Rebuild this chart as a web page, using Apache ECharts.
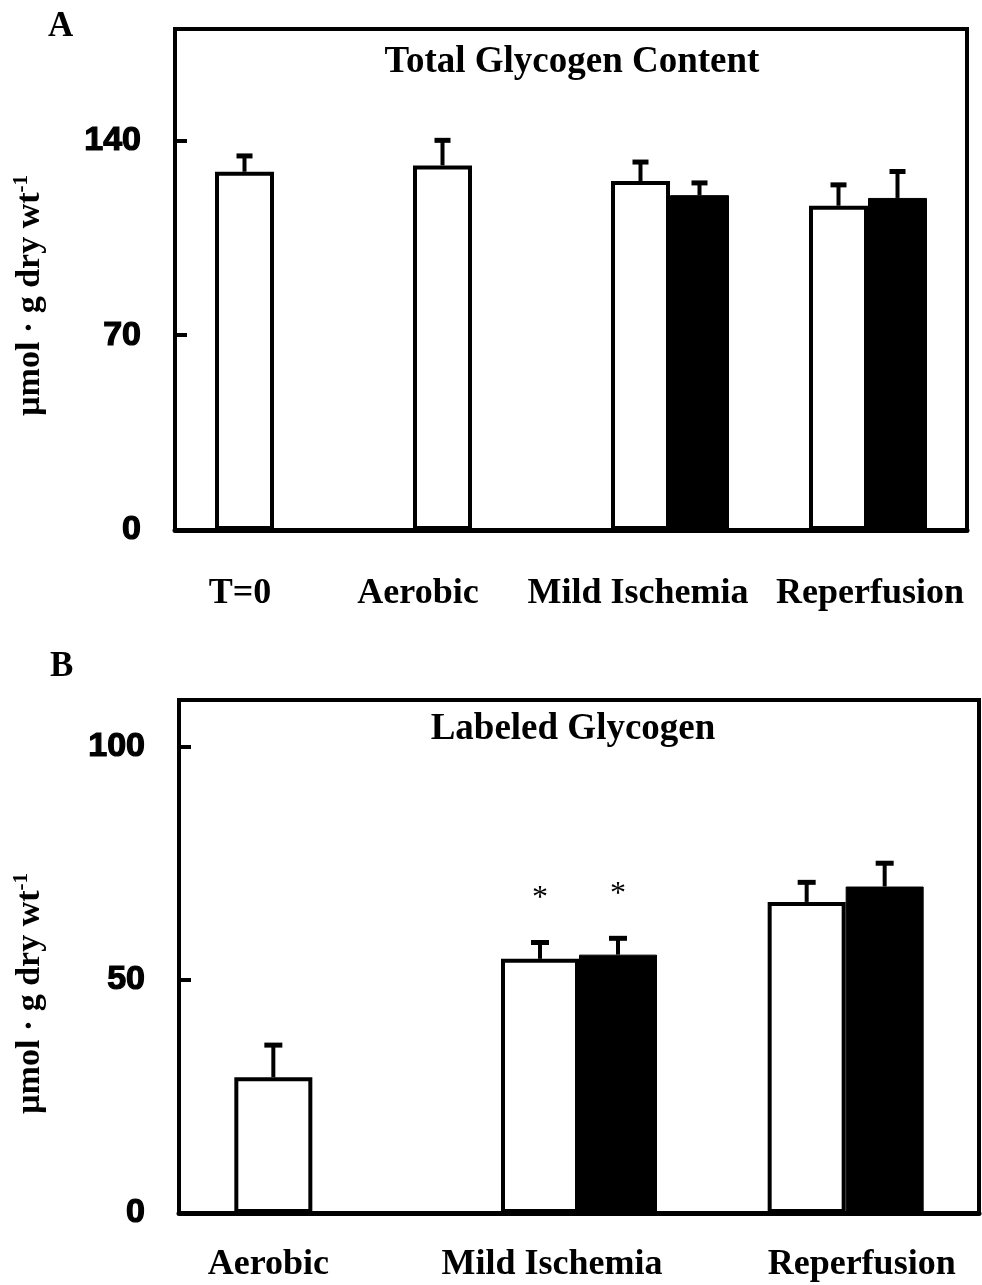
<!DOCTYPE html>
<html>
<head>
<meta charset="utf-8">
<script src="https://cdn.jsdelivr.net/npm/echarts@6/dist/echarts.min.js"></script>
<style>html,body{margin:0;padding:0;background:#fff}#c{width:982px;height:1285px}</style>
</head>
<body>
<div id="c"></div>
<script>
// ---------- data ----------
const categoriesA = ['T=0', 'Aerobic', 'Mild Ischemia', 'Reperfusion'];
const whiteA = [128.7, 131.0, 125.4, 116.5];
const whiteErrA = [5.7, 9.0, 6.8, 7.5];
const blackA = [null, null, 120.3, 119.3];
const blackErrA = [null, null, 4.4, 9.5];
const yTicksA = [0, 70, 140];

const categoriesB = ['Aerobic', 'Mild Ischemia', 'Reperfusion'];
const whiteB = [29.1, 54.5, 66.7];
const whiteErrB = [6.9, 3.5, 4.2];
const blackB = [null, 55.4, 70.0];
const blackErrB = [null, 3.5, 5.0];
const sigWhiteB = [false, true, false];
const sigBlackB = [false, true, false];
const yTicksB = [0, 50, 100];

const titleA = 'Total Glycogen Content';
const titleB = 'Labeled Glycogen';
const yName = 'µmol · g dry wt';
const yNameSup = '-1';

// ---------- styles ----------
const SERIF = '"Liberation Serif", "Times New Roman", serif';
const SANS = '"Liberation Sans", Arial, sans-serif';
const labelShiftA = [-34, -54, -32, 2];
const labelShiftB = [-44, -27, 16];
const bwA = 59, bwB = 78;

function catData(cats, shifts) {
  return cats.map((c, i) => {
    const s = shifts[i];
    return { value: c, textStyle: { padding: s < 0 ? [0, -2 * s, 0, 0] : [0, 0, 0, 2 * s] } };
  });
}

function errData(vals, errs, sig) {
  return vals.map((v, i) => [i, v, errs[i], sig ? (sig[i] ? 1 : 0) : 0]);
}

function errSeries(axisIdx, vals, errs, offset, capW, sig) {
  return {
    type: 'custom',
    xAxisIndex: axisIdx, yAxisIndex: axisIdx,
    z: 1,
    data: errData(vals, errs, sig),
    renderItem: function (params, api) {
      const v = api.value(1);
      if (v == null || isNaN(v)) return null;
      const ci = api.value(0), e = api.value(2);
      const b = api.coord([ci, v]);
      const t = api.coord([ci, v + e]);
      const x = b[0] + offset;
      const children = [
        { type: 'line', shape: { x1: x, y1: b[1], x2: x, y2: t[1] }, style: { stroke: '#000', lineWidth: 4 } },
        { type: 'line', shape: { x1: x - capW / 2, y1: t[1], x2: x + capW / 2, y2: t[1] }, style: { stroke: '#000', lineWidth: 5 } }
      ];
      if (api.value(3) === 1) {
        children.push({ type: 'text', style: { text: '*', x: x, y: t[1] - 44, align: 'center', verticalAlign: 'middle', font: '32px ' + SERIF, fill: '#000' } });
      }
      return { type: 'group', children: children };
    }
  };
}

function yAxisCfg(gridIdx, max, ticks, nameShift, nameGap) {
  return {
    type: 'value', gridIndex: gridIdx, min: 0, max: max,
    axisLine: { show: true, lineStyle: { color: '#000', width: 4 } },
    axisTick: { show: true, inside: true, length: 12, lineStyle: { color: '#000', width: 4 }, customValues: ticks },
    axisLabel: { customValues: ticks, color: '#000', fontFamily: SANS, fontWeight: 'bold', fontSize: 34, margin: 34,
      textBorderColor: '#000', textBorderWidth: 1.2 },
    splitLine: { show: false },
    name: '{a|' + yName + '}{s|' + yNameSup + '}',
    nameLocation: 'middle', nameRotate: 90, nameGap: nameGap,
    nameTextStyle: {
      color: '#000', fontFamily: SERIF, fontWeight: 'bold', fontSize: 34,
      padding: [0, 2 * nameShift, 0, 0],
      rich: {
        a: { fontFamily: SERIF, fontWeight: 'bold', fontSize: 34, lineHeight: 38, color: '#000' },
        s: { fontFamily: SERIF, fontWeight: 'bold', fontSize: 21, lineHeight: 38, verticalAlign: 'top', color: '#000' }
      }
    }
  };
}

function xAxisCfg(gridIdx, cats, shifts, margin) {
  return {
    type: 'category', gridIndex: gridIdx, data: catData(cats, shifts),
    axisLine: { show: true, lineStyle: { color: '#000', width: 5 } },
    axisTick: { show: false },
    axisLabel: { color: '#000', fontFamily: SERIF, fontWeight: 'bold', fontSize: 36, margin: margin, interval: 0 }
  };
}

const option = {
  animation: false,
  backgroundColor: '#fff',
  title: [
    { text: 'A', left: 48, top: 9, padding: 0, textStyle: { fontFamily: SERIF, fontWeight: 'bold', fontSize: 35, color: '#000' } },
    { text: 'B', left: 50, top: 649, padding: 0, textStyle: { fontFamily: SERIF, fontWeight: 'bold', fontSize: 35, color: '#000' } },
    { text: titleA, left: 572, top: 44, padding: 0, textAlign: 'center', textStyle: { fontFamily: SERIF, fontWeight: 'bold', fontSize: 37, color: '#000' } },
    { text: titleB, left: 573, top: 711, padding: 0, textAlign: 'center', textStyle: { fontFamily: SERIF, fontWeight: 'bold', fontSize: 37, color: '#000' } }
  ],
  grid: [
    { left: 175, right: 15, top: 29, bottom: 755, show: true, borderColor: '#000', borderWidth: 4, backgroundColor: 'transparent' },
    { left: 179, right: 3, top: 700, bottom: 72, show: true, borderColor: '#000', borderWidth: 4, backgroundColor: 'transparent' }
  ],
  xAxis: [
    xAxisCfg(0, categoriesA, labelShiftA, 46),
    xAxisCfg(1, categoriesB, labelShiftB, 34)
  ],
  yAxis: [
    yAxisCfg(0, 180, yTicksA, 16, 126),
    yAxisCfg(1, 110, yTicksB, 37, 130)
  ],
  series: [
    { type: 'bar', xAxisIndex: 0, yAxisIndex: 0, data: whiteA, barWidth: bwA, barGap: '0%', z: 2,
      itemStyle: { color: '#fff', borderColor: '#000', borderWidth: 4 } },
    { type: 'bar', xAxisIndex: 0, yAxisIndex: 0, data: blackA, barWidth: bwA, barGap: '0%', z: 2,
      itemStyle: { color: '#000', borderColor: '#000', borderWidth: 1 } },
    { type: 'bar', xAxisIndex: 1, yAxisIndex: 1, data: whiteB, barWidth: bwB, barGap: '0%', z: 2,
      itemStyle: { color: '#fff', borderColor: '#000', borderWidth: 4 } },
    { type: 'bar', xAxisIndex: 1, yAxisIndex: 1, data: blackB, barWidth: bwB, barGap: '0%', z: 2,
      itemStyle: { color: '#000', borderColor: '#000', borderWidth: 1 } },
    errSeries(0, whiteA, whiteErrA, -bwA / 2, 16),
    errSeries(0, blackA, blackErrA, bwA / 2, 16),
    errSeries(1, whiteB, whiteErrB, -bwB / 2, 18, sigWhiteB),
    errSeries(1, blackB, blackErrB, bwB / 2, 18, sigBlackB)
  ]
};

const chart = echarts.init(document.getElementById('c'), null, { renderer: 'canvas' });
chart.setOption(option);
</script>
</body>
</html>
